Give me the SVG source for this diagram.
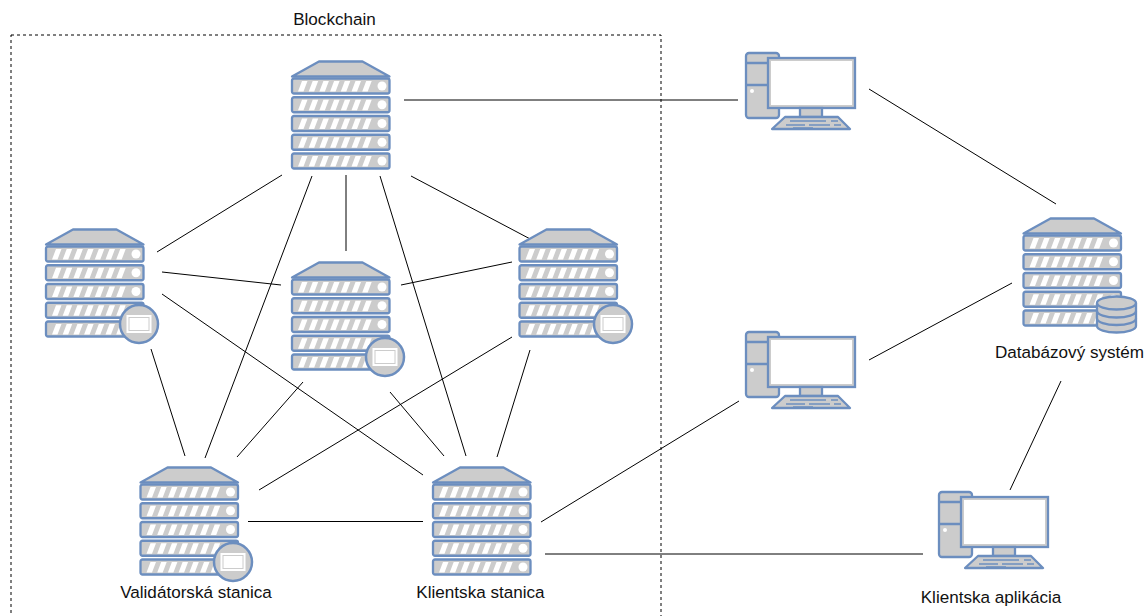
<svg xmlns="http://www.w3.org/2000/svg" width="1144" height="616" viewBox="0 0 1144 616">
<style>
.c{stroke:#000;stroke-width:1;fill:none}
.s{fill:#cccccc;stroke:#6c8ebf;stroke-width:2.300;stroke-linejoin:round}
.w{fill:#fff;stroke:none}
.g{fill:#cccccc;stroke:#6c8ebf;stroke-width:2.300}
text{font-family:"Liberation Sans",Arial,sans-serif;font-size:17.100px;fill:#111;text-anchor:middle}
</style>
<defs>
<g id="row">
<rect class="s" x="0" y="0" width="97.500" height="15" rx="2"/>
<path class="w" d="M6 13L10 2.500H15.500L11.500 13ZM16.700 13L20.700 2.500H26.200L22.200 13ZM27.400 13L31.400 2.500H36.900L32.900 13ZM38.100 13L42.100 2.500H47.600L43.600 13ZM48.800 13L52.800 2.500H58.300L54.300 13ZM59.500 13L63.500 2.500H69L65 13ZM70.200 13L74.200 2.500H79.700L75.700 13Z"/>
<circle class="w" cx="90" cy="7.500" r="4.500"/>
</g>
<g id="server">
<path class="s" d="M0 15.500L27 .5H70.500L97.500 15.500Z"/>
<use href="#row" y="17.500"/><use href="#row" y="36.250"/><use href="#row" y="55"/><use href="#row" y="73.750"/><use href="#row" y="92.500"/>
</g>
<g id="badge">
<circle cx="0" cy="0" r="19" fill="#cccccc" stroke="#6c8ebf" stroke-width="2.500"/>
<rect x="-12.500" y="-9" width="25" height="18" fill="#fff"/>
<rect x="-10" y="-6.500" width="20" height="13" fill="#fff" stroke="#cccccc" stroke-width="1"/>
</g>
<g id="pc">
<rect class="g" x="0" y="0" width="33" height="65" rx="3"/>
<path class="g" fill="none" d="M0 10H22M0 32H22"/>
<circle class="w" cx="6" cy="38" r="2"/>
<rect class="g" x="22" y="5" width="87" height="50"/>
<rect class="w" x="25" y="8" width="81" height="44"/>
<rect class="g" x="54" y="55" width="22" height="9"/>
<path class="s" d="M39 64H92L104 76H26Z"/>
<path d="M44 68H80M85 68H92M40 72H59M63 72H84M88 72H95M47 75H67" stroke="#6c8ebf" stroke-width="1.500" fill="none"/>
</g>
</defs>
<rect x="11" y="35" width="650" height="590" fill="none" stroke="#000" stroke-dasharray="3 3"/>
<g id="connectors">
<path class="c" d="M404 100H738"/>
<path class="c" d="M869 89L1056 204"/>
<path class="c" d="M869 360L1012 283"/>
<path class="c" d="M1061 381L1010 490"/>
<path class="c" d="M541 522L739 401"/>
<path class="c" d="M545 554H923"/>
<path class="c" d="M157 252L282 175"/>
<path class="c" d="M346 175V251"/>
<path class="c" d="M411 176L534 241"/>
<path class="c" d="M162 272L281 285"/>
<path class="c" d="M401 285L512 262"/>
<path class="c" d="M151 349L185 456"/>
<path class="c" d="M162 294L423 475"/>
<path class="c" d="M312 176L205 458"/>
<path class="c" d="M380 176L466 456"/>
<path class="c" d="M303 382L237 457"/>
<path class="c" d="M390 392L444 456"/>
<path class="c" d="M259 490L512 337"/>
<path class="c" d="M530 350L497 457"/>
<path class="c" d="M248 521.500H423"/>
</g>
<g id="blockchain-label"><text x="334.500" y="25">Blockchain</text></g>
<g id="server-top"><use href="#server" x="292" y="61"/></g>
<g id="server-left"><use href="#server" x="46" y="229"/><use href="#badge" x="139" y="324"/></g>
<g id="server-mid"><use href="#server" x="292" y="262"/><use href="#badge" x="385" y="357"/></g>
<g id="server-right"><use href="#server" x="519.500" y="229"/><use href="#badge" x="613" y="324"/></g>
<g id="server-validator"><use href="#server" x="140.500" y="467"/><use href="#badge" x="233" y="562"/><text x="196" y="598">Validátorská stanica</text></g>
<g id="server-client"><use href="#server" x="433" y="467"/><text x="480.500" y="598">Klientska stanica</text></g>
<g id="db-system"><use href="#server" x="1023.500" y="218"/>
<path class="s" d="M1097 303A19.500 6.500 0 0 1 1136 303V326A19.500 6.500 0 0 1 1097 326Z"/>
<path d="M1097 303A19.500 6.500 0 0 0 1136 303M1097 311A19.500 6.500 0 0 0 1136 311M1097 318.500A19.500 6.500 0 0 0 1136 318.500" fill="none" stroke="#6c8ebf" stroke-width="2.300"/>
<text x="1069.500" y="358">Databázový systém</text></g>
<g id="pc-1"><use href="#pc" x="746" y="53"/></g>
<g id="pc-2"><use href="#pc" x="746" y="332"/></g>
<g id="pc-3"><use href="#pc" x="939" y="492"/><text x="991" y="603">Klientska aplikácia</text></g>
</svg>
